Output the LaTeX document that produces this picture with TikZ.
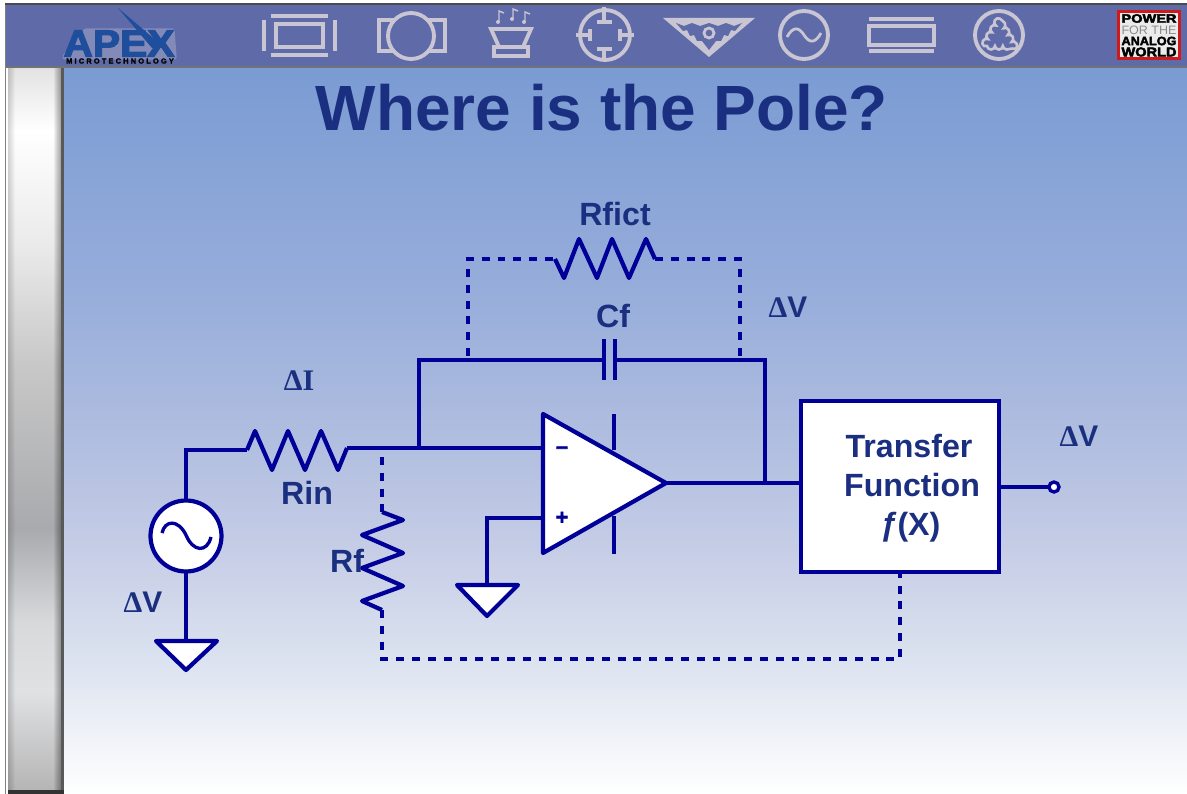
\documentclass[tikz,border=0pt]{standalone}
\usepackage{fontspec}
\setmainfont{Liberation Sans}
\newfontfamily\symfont{Liberation Serif}
\newfontfamily\heavyfont[FakeBold=3]{Liberation Sans Bold}
\newfontfamily\microfont[FakeBold=2,LetterSpace=30]{Liberation Sans Bold}
\usetikzlibrary{decorations.pathmorphing}
\definecolor{wirecol}{HTML}{000099}
\definecolor{textcol}{HTML}{1B2F80}
\definecolor{headcol}{HTML}{5F6AA8}
\definecolor{iconcol}{HTML}{C9C5D2}
\definecolor{apexcol}{HTML}{1E4E9C}
\definecolor{bga}{HTML}{7A9BD3}\definecolor{bgb}{HTML}{98AEDB}\definecolor{bgc}{HTML}{B2BFE0}
\definecolor{bgd}{HTML}{C6CDE6}\definecolor{bge}{HTML}{D9E1EF}\definecolor{bgf}{HTML}{EEF1F7}
\pgfdeclareverticalshading{slidebg}{100bp}{color(0bp)=(white); color(25bp)=(white); color(29.4bp)=(bgf);
  color(34.9bp)=(bge); color(41.8bp)=(bgd); color(48.7bp)=(bgc); color(59bp)=(bgb); color(75bp)=(bga); color(100bp)=(bga)}
\definecolor{bara}{HTML}{E2E2E2}\definecolor{barb}{HTML}{EAEAEA}\definecolor{barc}{HTML}{C8C8C8}
\definecolor{bard}{HTML}{A9AAAD}\definecolor{bare}{HTML}{D8D9DB}\definecolor{barf}{HTML}{E0E1E3}\definecolor{barg}{HTML}{B5B5B5}
\pgfdeclareverticalshading{sidebar}{100bp}{color(0bp)=(barg); color(25bp)=(barg); color(31.8bp)=(barf);
  color(36.6bp)=(bare); color(43.1bp)=(bard); color(54.5bp)=(barc); color(62.6bp)=(barb); color(70.6bp)=(white); color(75bp)=(bara); color(100bp)=(bara)}
\tikzset{
  wire/.style={draw=wirecol,line width=2.4pt,line join=miter},
  dashwire/.style={wire,dash pattern=on 4.5pt off 4.5pt},
  lbl/.style={text=textcol,font=\fontsize{18.3}{20}\selectfont\bfseries,inner sep=0pt},
  dlbl/.style={lbl,font=\fontsize{17}{20}\selectfont\bfseries},
  icon/.style={draw=iconcol,line width=2.2pt},
  gnd/.style={wire,fill=white,line join=round},
  logoline/.style={inner sep=0pt,text=black}
}
\begin{document}
\begin{tikzpicture}[x=0.02cm,y=-0.02cm]
\useasboundingbox (0,0) rectangle (1187,794);
\fill[white] (0,0) rectangle (1187,794);
\shade[shading=slidebg] (63,67) rectangle (1187,794);
\shade[shading=sidebar] (8,67) rectangle (61,790);
\foreach \i in {0,...,6} {
  \fill[black,opacity=.05] (54+\i,67) rectangle (61,790);
  \fill[black,opacity=.025] (8,67) rectangle (9+\i,790);
}
\fill[black!65] (61,67) rectangle (64,794);
\fill[black!80] (8,790) rectangle (64,794);
\fill[black!50] (5,4) rectangle (6,794);
\fill[headcol] (6,5) rectangle (1187,67);
\fill[black!70] (5,3) rectangle (1187,5);
\fill[black!55] (6,66.5) rectangle (1187,68);

\draw[icon] (264,20) -- (264,51);
\draw[icon] (335,20) -- (335,51);
\draw[icon] (271,16) -- (328,16);
\draw[icon] (271,55) -- (328,55);
\draw[icon] (276,24) rectangle (323,47);

\draw[icon] (411,36) circle [radius=23];
\draw[icon] (395,20) -- (379,20) -- (379,51) -- (395,51);
\draw[icon] (428,20) -- (445,20) -- (445,51) -- (428,51);

\draw[icon] (491,29) -- (531,29) -- (523,47) -- (499,47) -- cycle;
\draw[icon] (494,47) rectangle (528,56);
\draw[iconcol,line width=.8pt] (499,22) -- (499,11) -- (504,13);
\draw[iconcol,line width=.8pt] (513,19) -- (513,9) -- (518,11);
\draw[iconcol,line width=.8pt] (525,22) -- (525,12) -- (530,14);
\fill[iconcol] (498,22) circle [radius=2] (512,19) circle [radius=2] (524,22) circle [radius=2];

\draw[icon] (605,35) circle [radius=25];
\draw[icon] (604,7) -- (604,22) (597,22) -- (612,22);
\draw[icon] (604,61) -- (604,49) (597,49) -- (612,49);
\draw[icon] (634,35) -- (620,35) (620,29) -- (620,41);
\draw[icon] (576,35) -- (590,35) (590,29) -- (590,41);

\fill[iconcol] (663,18) -- (755,18) -- (709,57) -- cycle;
\fill[headcol] (676,23) -- (684,26) -- (692,23) -- (700,26) -- (709,23) -- (718,26) -- (726,23) -- (734,26) -- (742,23)
  -- (735,31) -- (731,30) -- (728,36) -- (724,35) -- (721,41) -- (716,41) -- (709,50) -- (702,41) -- (697,41) -- (694,35) -- (690,36) -- (687,30) -- (683,31) -- cycle;
\draw[iconcol,line width=1.6pt] (709,33) circle [radius=5];

\draw[icon] (804,35) circle [radius=24];
\draw[icon,line width=1.6pt] (787,37) .. controls (793,26) and (799,27) .. (804,35) .. controls (809,43) and (815,44) .. (821,33);

\draw[icon] (869,19) -- (934,19);
\draw[icon] (869,51) -- (934,51);
\draw[icon] (869,26) rectangle (934,45);

\draw[icon] (999,35) circle [radius=24];
\draw[iconcol,line width=1.5pt,decorate,decoration={bumps,segment length=9,amplitude=2}] (984,46) -- (999,20) -- (1014,46) -- cycle;

\draw[headcol!65!iconcol,fill,line width=3pt,line join=round] (65,57) -- (86,31) -- (172,31) -- (174,57) -- cycle;
\fill[apexcol] (118,8) -- (165,48) -- (152,48) -- cycle;
\node[inner sep=0pt,text=apexcol,font=\fontsize{21.5}{22}\heavyfont] (apex) at (119,43.5) {\scalebox{1.08}[1]{APEX}};
\node[inner sep=0pt,text=black,font=\fontsize{4.2}{4}\microfont] (micro) at (120,61) {MICROTECHNOLOGY};

\fill[red!80!black!90!white] (1117,10) rectangle (1181,60);
\fill[white!92!black] (1120,13) rectangle (1178,57);
\node[logoline] (power) at (1149,18.5) {\resizebox{1.1cm}{0.17cm}{\heavyfont POWER}};
\node[logoline,text=black!45] (forthe) at (1149,30) {\resizebox{1.1cm}{0.17cm}{FOR THE}};
\node[logoline] (analog) at (1149,41) {\resizebox{1.1cm}{0.17cm}{\heavyfont ANALOG}};
\node[logoline] (world) at (1149,52) {\resizebox{1.1cm}{0.18cm}{\heavyfont WORLD}};

\node[text=textcol,font=\fontsize{36.4}{40}\selectfont\bfseries,inner sep=0pt] (title) at (602,108) {Where is the Pole?};

\coordinate (rinl) at (247,450);
\coordinate (rinr) at (347,448);
\coordinate (fbl) at (419,448);
\coordinate (capl) at (604,360);
\coordinate (capr) at (615,360);
\coordinate (fbtl) at (419,360);
\coordinate (fbtr) at (765,360);
\coordinate (inm) at (543,448);
\coordinate (inp) at (543,518);
\coordinate (outp) at (666,483);
\coordinate (fbo) at (765,483);
\coordinate (rfa) at (382,512);
\coordinate (rfb) at (382,610);
\coordinate (rfta) at (382,457);
\coordinate (fictl) at (555,259);
\coordinate (fictr) at (655,259);
\coordinate (ficta) at (468,356);
\coordinate (fictb) at (740,356);
\coordinate (gnda) at (487,585);
\coordinate (gndb) at (186,641);
\coordinate (rfc) at (382,659);

\node[wire,fill=white,circle,minimum size=1.42cm,inner sep=0pt,outer sep=0pt] (src) at (186,536) {};
\node[wire,fill=white,rectangle,minimum width=3.96cm,minimum height=3.42cm,inner sep=0pt,outer sep=0pt] (tf) at (900,486.5) {};
\node[wire,fill=white,circle,minimum size=0.2cm,line width=1.9pt,inner sep=0pt,outer sep=0pt] (term) at (1054,487) {};

\draw[wire,line width=1.9pt] (162,533) .. controls (165,520) and (178,519) .. (186,535) .. controls (193,552) and (207,553) .. (211,537);

\draw[wire] (src.north) -- (186,450) -- (rinl);
\draw[wire,line join=round] (rinl) -- (255,431) -- (272,470) -- (288,431) -- (305,470) -- (321,431) -- (338,470) -- (rinr);
\draw[wire] (rinr) -- (inm);
\draw[wire] (fbl) -- (fbtl) -- (capl);
\draw[wire] (capr) -- (fbtr) -- (fbo);
\draw[wire] (capl |- 0,339) -- (capl |- 0,380);
\draw[wire] (capr |- 0,339) -- (capr |- 0,380);

\draw[wire] (614,414) -- (614,450);
\draw[wire] (614,516) -- (614,554);
\draw[wire,fill=white,line join=round] (543,414) -- (outp) -- (543,553) -- cycle;
\node[text=wirecol,font=\fontsize{12}{12}\heavyfont,inner sep=0pt] (minus) at (562,450) {–};
\node[text=wirecol,font=\fontsize{12}{12}\heavyfont,inner sep=0pt] (plus) at (562,518) {+};

\draw[wire] (outp) -- (tf.west |- outp);
\draw[wire] (inp) -| (gnda);
\draw[gnd] (457,585) -- (518,585) -- (487,616) -- cycle;
\draw[wire] (src.south) -- (gndb);
\draw[gnd] (156,641) -- (217,641) -- (186,670) -- cycle;
\draw[wire] (tf.east |- term) -- (term);

\draw[dashwire] (ficta) -- (468,259) -- (fictl);
\draw[wire,line join=round] (fictl) -- (564,278) -- (579,239) -- (597,278) -- (612,239) -- (629,278) -- (646,239) -- (fictr);
\draw[dashwire] (fictr) -- (740,259) -- (fictb);

\draw[dashwire] (rfta) -- (rfa);
\draw[wire,line join=round] (rfa) -- (403,520) -- (362,535) -- (403,553) -- (362,568) -- (403,586) -- (362,601) -- (rfb);
\draw[dashwire] (rfb) -- (rfc) -- (900,659) -- (tf.south);

\node[lbl] (rfict) at (615,214) {Rfict};
\node[lbl] (cf) at (613,316) {Cf};
\node[lbl] (rin) at (307,493) {Rin};
\node[lbl] (rf) at (347,561) {Rf};
\node[dlbl] (dva) at (788,307) {{\symfont Δ}V};
\node[dlbl] (dvb) at (143,602) {{\symfont Δ}V};
\node[dlbl] (dvc) at (1079,436) {{\symfont Δ}V};
\node[dlbl,font=\fontsize{17}{20}\symfont\bfseries] (di) at (299,381) {ΔI};
\node[lbl] (tfa) at (909,446) {Transfer};
\node[lbl] (tfb) at (912,485) {Function};
\node[lbl] (tfc) at (910,527) {{\itshape ƒ}(X)};
\end{tikzpicture}
\end{document}
